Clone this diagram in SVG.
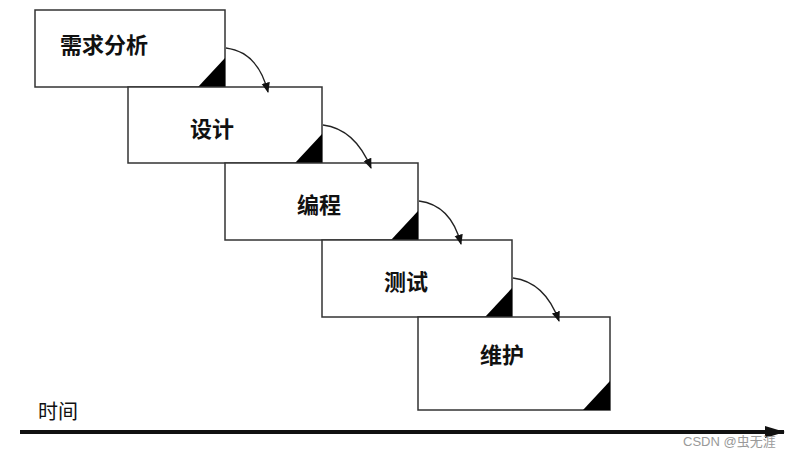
<svg xmlns="http://www.w3.org/2000/svg" width="798" height="459" viewBox="0 0 798 459">
<style>
.box{fill:#fff;stroke:#333;stroke-width:1.5}
.tri{fill:#000}
.lbl{font-family:"Noto Sans CJK SC",sans-serif;font-size:22px;font-weight:bold;fill:#111}
.arr{fill:none;stroke:#222;stroke-width:1.3;marker-end:url(#ah)}
</style>
<defs>
<marker id="ah" viewBox="0 0 10 10" refX="9" refY="5" markerWidth="8" markerHeight="8" orient="auto"><path d="M0,1 L10,5 L0,9 Z" fill="#111"/></marker>
<marker id="big" viewBox="0 0 20 12" refX="19" refY="6" markerWidth="20" markerHeight="12" markerUnits="userSpaceOnUse" orient="auto"><path d="M0,0 L20,6 L0,12 Z" fill="#111"/></marker>
</defs>
<rect width="798" height="459" fill="#fff"/>
<g id="n1"><rect class="box" x="35" y="10" width="190" height="77"/><path class="tri" d="M198,87 L225,87 L225,58 Z"/><text class="lbl" x="60" y="53">需求分析</text></g>
<g id="n2"><rect class="box" x="128" y="87" width="194" height="76"/><path class="tri" d="M295,163 L322,163 L322,134 Z"/><text class="lbl" x="190" y="137">设计</text></g>
<g id="n3"><rect class="box" x="225" y="163" width="193" height="77"/><path class="tri" d="M391,240 L418,240 L418,211 Z"/><text class="lbl" x="297" y="213">编程</text></g>
<g id="n4"><rect class="box" x="322" y="240" width="190" height="77"/><path class="tri" d="M485,317 L512,317 L512,288 Z"/><text class="lbl" x="384" y="290">测试</text></g>
<g id="n5"><rect class="box" x="418" y="317" width="192" height="93"/><path class="tri" d="M583,410 L610,410 L610,381 Z"/><text class="lbl" x="480" y="363">维护</text></g>
<g id="connectors">
<path class="arr" d="M226,48 Q258,52 268,92"/>
<path class="arr" d="M323,125 Q355,129 371,168"/>
<path class="arr" d="M419,201 Q451,205 461,244"/>
<path class="arr" d="M513,278 Q545,282 559,321"/>
<line x1="20" y1="432" x2="784" y2="432" stroke="#111" stroke-width="4" marker-end="url(#big)"/>
</g>
<text x="38" y="419" font-family="Noto Sans CJK SC,sans-serif" font-size="20" fill="#111">时间</text>
<text x="683" y="446" font-family="Liberation Sans,Noto Sans CJK SC,sans-serif" font-size="13" fill="#999">CSDN @虫无涯</text>
</svg>
